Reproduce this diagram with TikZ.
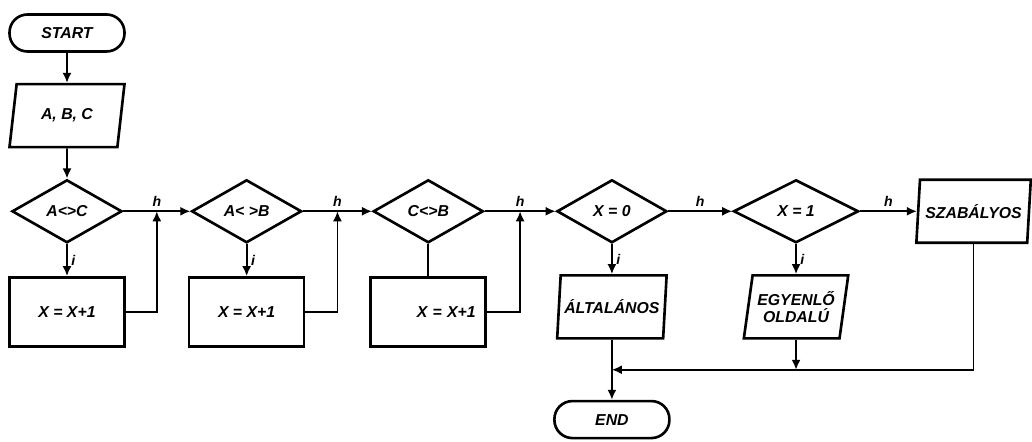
\documentclass[tikz,border=0pt]{standalone}
\usepackage{fontspec}
\setmainfont{Liberation Sans}
\usepackage{tikz}
\usetikzlibrary{arrows.meta,positioning,shapes.geometric,calc}

\begin{document}
\begin{tikzpicture}[
      font=\bfseries\itshape\fontsize{9}{10}\selectfont,
      node distance=6.4mm,
      term/.style={draw, line width=1.5pt, rounded corners=3.6mm, align=center,
                   minimum width=23mm, minimum height=7.4mm},
      io/.style={draw, line width=1.5pt, trapezium, trapezium stretches=true,
                 trapezium left angle=77, trapezium right angle=103,
                 align=center, inner sep=1pt, minimum width=23mm, minimum height=12.6mm},
      test/.style={draw, line width=1.5pt, diamond, inner sep=0pt,
                   minimum width=22mm, minimum height=12.6mm},
      box/.style={draw, line width=1.5pt, minimum width=23mm, minimum height=13.8mm},
      arrow/.style={-{Latex[length=2mm,width=1.8mm]}, line width=1pt},
      line/.style={line width=1pt},
      lbl/.style={font=\bfseries\itshape\fontsize{8}{9}\selectfont, inner sep=2pt}
  ]
  \useasboundingbox (0,0) rectangle (20.64,-8.84);

  \node[term] (start) at (1.34,-0.66) {START};
  \node[io, below=6mm of start] (abc) {A, B, C};
  \node[test, below=6mm of abc] (d1) {A<>C};
  \node[box, below=of d1] (b1) {X = X+1};

  \node[test, right=13.4mm of d1] (d2) {A< >B};
  \node[box, below=of d2] (b2) {X = X+1};

  \node[test, right=13.8mm of d2] (d3) {C<>B};
  \node[box, below=of d3, text width=19mm, align=right] (b3) {X = X+1};

  \node[test, right=14.2mm of d3] (d4) {X = 0};
  \node[io, below=6mm of d4, minimum width=22mm, inner sep=0pt] (alt) {ÁLTALÁNOS};
  \node[term, below=12mm of alt] (end) {END};

  \node[test, right=12.8mm of d4, minimum width=25mm] (d5) {X = 1};
  \node[io, below=6mm of d5, minimum width=21mm] (egy) {EGYENLŐ\\OLDALÚ};

  \node[io, right=11.4mm of d5, inner sep=0pt] (sz) {SZABÁLYOS};

  \coordinate (j1) at ($(d1.east)!0.5!(d2.west)$);
  \coordinate (j2) at ($(d2.east)!0.5!(d3.west)$);
  \coordinate (j3) at ($(d3.east)!0.5!(d4.west)$);
  \coordinate (mrg) at ([yshift=-6mm]alt.south -| alt.center);

  \draw[arrow] (start) -- (abc);
  \draw[arrow] (abc) -- (d1);

  \draw[arrow] (d1) -- node[lbl, right] {i} (b1);
  \draw[arrow] (d2) -- node[lbl, right] {i} (b2);
  \draw[line] (d3) -- (b3);
  \draw[arrow] (d4) -- node[lbl, right] {i} (alt);
  \draw[arrow] (d5) -- node[lbl, right] {i} (egy);

  \draw[arrow] (d1.east) -- node[lbl, above] {h} (d2.west);
  \draw[arrow] (d2.east) -- node[lbl, above] {h} (d3.west);
  \draw[arrow] (d3.east) -- node[lbl, above] {h} (d4.west);
  \draw[arrow] (d4.east) -- node[lbl, above] {h} (d5.west);
  \draw[arrow] (d5.east) -- node[lbl, above] {h} (sz.west);

  \draw[arrow] (b1.east) -| (j1);
  \draw[arrow] (b2.east) -| (j2);
  \draw[arrow] (b3.east) -| (j3);

  \draw[arrow] (sz.south -| sz.center) |- (mrg);
  \draw[arrow] (egy.south -| egy.center) -- (egy.center |- mrg);
  \draw[arrow] (alt) -- (end);
\end{tikzpicture}
\end{document}
